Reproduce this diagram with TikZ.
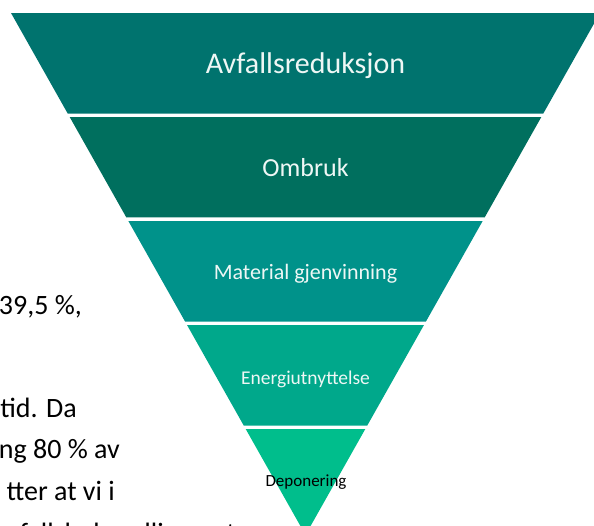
\documentclass[tikz,border=0pt]{standalone}
\usepackage{fontspec}
\setmainfont{Carlito}
\usetikzlibrary{calc}
\definecolor{bandA}{HTML}{00736E}
\definecolor{bandB}{HTML}{006F5E}
\definecolor{bandC}{HTML}{00928A}
\definecolor{bandD}{HTML}{00A88B}
\definecolor{bandE}{HTML}{00BE8C}
\definecolor{labtxt}{HTML}{EEF7F5}
\tikzset{
  lab/.style={anchor=base, inner sep=0pt, text=labtxt},
  bodytxt/.style={anchor=base east, inner sep=0pt, text=black, font=\fontsize{28}{33}\selectfont},
}
\begin{document}
\begin{tikzpicture}[x=1pt,y=-1pt]
\useasboundingbox (0,0) rectangle (594,525);
\clip (0,0) rectangle (594,525);
\coordinate (L) at (11,13);
\coordinate (R) at (600,13);
\coordinate (A) at (305.5,535);
\foreach \ta/\tb/\col in {0/0.19253/bandA, 0.19923/0.39176/bandB, 0.39847/0.59100/bandC, 0.59770/0.79023/bandD, 0.79693/1/bandE}{
  \fill[\col] ($(L)!\ta!(A)$) -- ($(R)!\ta!(A)$) -- ($(R)!\tb!(A)$) -- ($(L)!\tb!(A)$) -- cycle;
}
\node[lab, font=\fontsize{30}{35}\selectfont] (l1) at (305.5,73) {Avfallsreduksjon};
\node[lab, font=\fontsize{26}{31}\selectfont] (l2) at (305.5,176) {Ombruk};
\node[lab, font=\fontsize{22}{26}\selectfont] (l3) at (305.5,279) {Material gjenvinning};
\node[lab, font=\fontsize{19.5}{23}\selectfont] (l4) at (305.5,384) {Energiutnyttelse};
\node[lab, text=black, font=\fontsize{17}{20}\selectfont] (l5) at (306,486) {Deponering};
\node[bodytxt] (t1) at (82,314) {39,5 \%,};
\node[bodytxt] (t2) at (77,417) {tid. Da};
\node[bodytxt] (t3) at (120,458) {ng 80 \% av};
\node[bodytxt] (t4) at (115,500) {tter at vi i};
\node[bodytxt] (t5) at (236,542) {avfallsbehandlingen t};
\end{tikzpicture}
\end{document}
